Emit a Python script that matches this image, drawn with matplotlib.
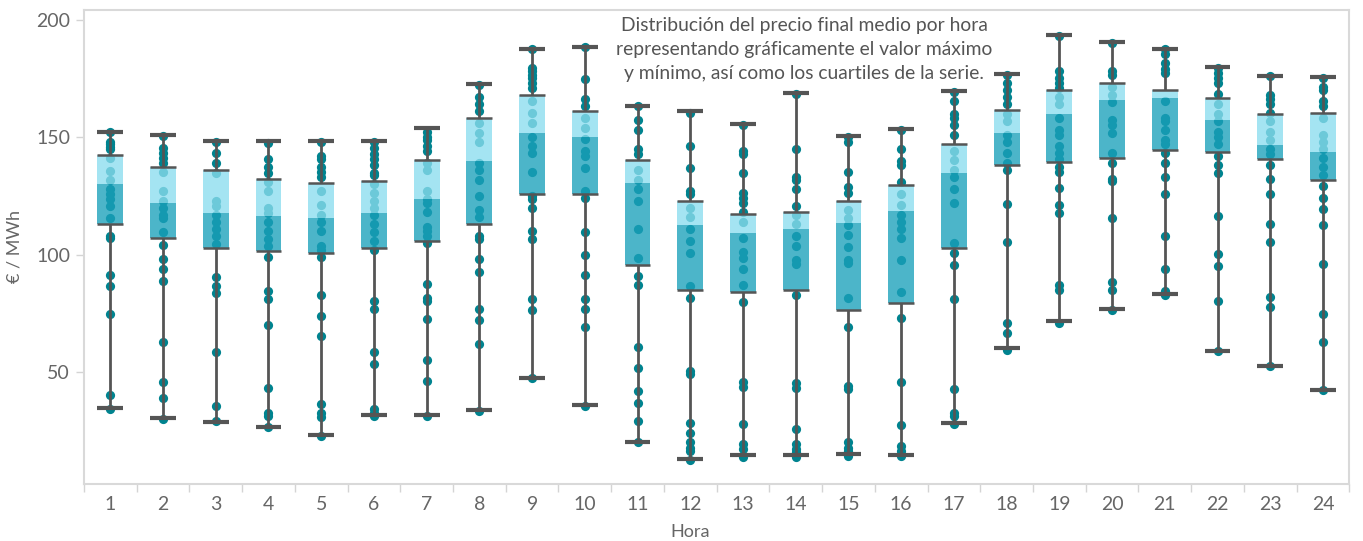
import numpy as np
import matplotlib
matplotlib.use("Agg")
import matplotlib.pyplot as plt

plt.rcParams['font.family'] = ['Lato', 'DejaVu Sans']

hours = list(range(1, 25))
vmin = [34.7, 30.4, 28.7, 26.6, 23.2, 31.8, 31.8, 33.8, 47.4, 35.9, 20.1, 12.9,
        14.5, 14.5, 14.9, 14.5, 28.4, 60.0, 71.5, 76.7, 83.0, 59.1, 52.7, 42.4]
q1 = [113.1, 107.1, 102.8, 101.5, 100.6, 102.8, 105.8, 113.0, 126.0, 126.0, 95.4, 84.8,
      83.9, 84.8, 76.2, 79.2, 102.7, 138.1, 139.6, 141.2, 144.6, 143.6, 140.5, 131.9]
med = [130.0, 122.0, 117.7, 116.4, 115.5, 117.7, 123.6, 139.9, 151.6, 150.1, 130.6, 112.6,
       109.2, 111.1, 113.4, 118.5, 134.9, 151.6, 159.7, 166.0, 166.8, 157.5, 146.7, 143.7]
q3 = [142.5, 137.4, 136.0, 132.2, 130.3, 131.2, 140.3, 158.3, 167.9, 161.3, 140.3, 122.9,
      117.3, 118.2, 122.9, 129.7, 147.0, 161.4, 169.9, 173.0, 169.9, 166.9, 159.7, 160.4]
vmax = [152.4, 150.8, 148.2, 148.2, 148.2, 148.2, 153.8, 172.5, 187.6, 188.5, 163.2, 161.0,
        155.8, 168.7, 150.4, 153.6, 169.6, 176.8, 193.5, 190.5, 187.6, 179.9, 176.1, 175.6]

points = [
    [152.2, 148, 147, 146, 144.9, 141.2, 135.7, 131.6, 128, 126, 123.5, 120.5, 115.7, 108, 107, 91.4, 86.7, 74.7, 40, 34.4],
    [150.5, 145.6, 143.4, 141.2, 139, 135.3, 127.2, 122.7, 119.8, 116.8, 115.4, 109.5, 104, 97.9, 94, 88.8, 62.9, 45.6, 39.1, 30],
    [147.9, 143.4, 139, 134.6, 122.7, 120.5, 116.8, 113.9, 110.9, 108, 104.3, 90.3, 86.6, 83.6, 58.5, 35.6, 28.9],
    [147.6, 140.5, 137.5, 134.6, 130.9, 127.2, 119.8, 117.6, 113.9, 110.2, 106.5, 103.5, 98.8, 84.3, 81.1, 69.9, 43, 32.6, 31.4, 26.4],
    [147.9, 141.9, 140.5, 137.5, 135.3, 133.1, 127.2, 121.3, 116.8, 113.9, 110.2, 103.5, 102.1, 99.1, 82.6, 73.7, 65.4, 36.3, 32.3, 30.8, 22.9],
    [147.9, 145.6, 142.7, 140.5, 138.3, 134.6, 133.8, 130, 126.4, 122.7, 119.8, 116.8, 113.1, 109.5, 105.8, 102.1, 80.2, 76.6, 58.3, 53.3, 34.4, 32.6, 31.2],
    [152.3, 150.1, 148.6, 146.4, 144.2, 139, 136, 127.2, 123.5, 122, 118.3, 111.7, 110.2, 108, 105, 87.6, 81.4, 80.2, 72.5, 55.1, 46.2, 31.2],
    [172.2, 167.1, 164.1, 161.2, 156, 151.6, 147.9, 139, 136, 131.6, 125, 119.1, 116.1, 108, 106.5, 97.9, 92.5, 77, 72.2, 61.8, 33.4],
    [187.7, 179.6, 178.1, 176.7, 175.2, 173, 170.8, 165.6, 160.4, 156, 150.1, 146.4, 143.4, 135.3, 125, 123.5, 119.8, 110.2, 106.5, 81.1, 76.2, 47.4],
    [188.5, 174.7, 166.3, 163.4, 158.2, 153.8, 149.3, 144.2, 141.9, 136.8, 127.2, 124.2, 109.5, 99.9, 91.4, 81.1, 77, 69.1, 35.6],
    [163.2, 157.5, 153, 144.9, 142.7, 136, 131.6, 127.9, 122.7, 110.9, 98.4, 91, 87, 60.7, 51.6, 41.8, 36.8, 28.9, 20.1],
    [160.4, 146.4, 136.8, 127.2, 125.7, 119.8, 116.1, 110.9, 105.8, 100.6, 86.6, 81.7, 50.4, 49.2, 28.2, 23.8, 20.1, 17.8, 16.4, 12.3],
    [155.2, 144.2, 142.7, 134.6, 126.4, 124.2, 122, 118.3, 113.9, 107.2, 101.3, 98.4, 94, 87, 79.6, 45.9, 43.7, 28, 19.3, 17.1, 13.7],
    [168.5, 144.9, 133.1, 131.6, 127.9, 120.5, 116.8, 113.1, 108, 103.5, 97.6, 96.1, 82.9, 45.2, 43.3, 25.6, 19.3, 17.1, 15.7, 13.7],
    [150.1, 147.9, 135, 128.7, 126.4, 119.1, 115.4, 112.4, 108.3, 103.2, 97.6, 96.5, 81.4, 69.1, 44.2, 42.7, 20.1, 17.8, 16.4, 14.2],
    [153, 144.9, 139.7, 138.3, 130.9, 125.7, 121.3, 116.8, 113.9, 110.9, 107.2, 97.6, 83.9, 72.8, 45.5, 27.5, 18.6, 16.4, 14.2],
    [169.3, 165.6, 159.7, 158.2, 155.2, 150.8, 144.2, 140.2, 136, 133.1, 127.9, 122, 105, 100.6, 95.4, 81.1, 42.7, 32.6, 31.2, 28],
    [176.7, 173, 170, 167.1, 164.1, 159.7, 156.7, 150.8, 147.9, 143.4, 139, 136, 121.6, 105.3, 70.8, 66.6, 59.2],
    [193.2, 178.1, 175.2, 173, 170.8, 167.1, 164.1, 158.2, 153, 150.8, 146.4, 143.4, 140.5, 137.5, 135.3, 128.4, 121, 117.6, 87, 85.1, 70.8],
    [190, 178.1, 176.7, 171.5, 167.8, 164.8, 157.5, 155.2, 152, 143.4, 139, 132.3, 131.3, 115.4, 88.5, 85.1, 76.2],
    [187.7, 185.5, 181.8, 178.9, 177.4, 165.6, 158.2, 156.7, 153, 148.6, 147.1, 143.4, 139, 133.1, 126, 107.7, 93.8, 84.6, 82.6],
    [179.6, 177.4, 175.2, 173, 168.5, 164.1, 159.7, 156.7, 152.3, 150.1, 147.1, 141.9, 138.3, 134.9, 116.6, 100.1, 95, 80.4, 58.8],
    [175.9, 167.8, 166.3, 164.1, 160.4, 156.7, 152.3, 148.6, 144.9, 142.7, 138.3, 132.3, 125.7, 112.9, 105.3, 82.1, 77.7, 52.6],
    [175.2, 171.5, 170, 165.6, 163.4, 158.2, 150.8, 147.9, 144.9, 141.2, 137.5, 133.8, 129.4, 124.2, 119.5, 112.7, 95.9, 74.6, 62.9, 42.2],
]

titulo = ("Distribución del precio final medio por hora\n"
          "representando gráficamente el valor máximo\n"
          "y mínimo, así como los cuartiles de la serie.")

fig = plt.figure(figsize=(13.63, 5.41), dpi=100)
ax = fig.add_axes([0.0616, 0.106, 0.9284, 0.876])

point_col = "#00838f"
line_col = "#555555"
w = 0.49

for h, pts in zip(hours, points):
    ax.scatter([h] * len(pts), pts, s=44, color=point_col, linewidths=0, zorder=2)

x = np.array(hours)
q1a, meda, q3a = np.array(q1), np.array(med), np.array(q3)
ax.bar(x, meda - q1a, bottom=q1a, width=w, color="#1aa0ba", alpha=0.78, zorder=3, linewidth=0)
ax.bar(x, q3a - meda, bottom=meda, width=w, color="#8bddef", alpha=0.78, zorder=3, linewidth=0)

ax.vlines(x, vmin, q1, color=line_col, lw=2, zorder=4)
ax.vlines(x, q3, vmax, color=line_col, lw=2, zorder=4)
ax.hlines(q1, x - w / 2, x + w / 2, color=line_col, lw=1.8, zorder=4)
ax.hlines(q3, x - w / 2, x + w / 2, color=line_col, lw=1.8, zorder=4)
ax.hlines(vmin, x - w / 2, x + w / 2, color=line_col, lw=3, zorder=4)
ax.hlines(vmax, x - w / 2, x + w / 2, color=line_col, lw=3, zorder=4)

ax.set_xlim(0.5, 24.5)
ax.set_ylim(2.4, 204.3)
ax.set_yticks([50, 100, 150, 200])
ax.set_xticks(hours)
ax.set_xticks(np.arange(0.5, 25, 1), minor=True)
ax.tick_params(axis='x', which='major', length=0, pad=9, labelsize=14, labelcolor="#666666")
ax.tick_params(axis='x', which='minor', length=6, color="#d4d4d4", width=1)
ax.tick_params(axis='y', length=6, color="#d4d4d4", width=1, pad=4, labelsize=14, labelcolor="#666666")

for s in ax.spines.values():
    s.set_color("#d9d9d9")
    s.set_linewidth(1.5)

ax.set_ylabel("€ / MWh", fontsize=13, color="#666666", labelpad=10)
ax.set_xlabel("Hora", fontsize=13, color="#666666")
ax.xaxis.set_label_coords(0.479, -0.085)

ax.text(0.569, 0.984, titulo, transform=ax.transAxes, ha='center', va='top',
        fontsize=13.9, color="#555555", linespacing=1.48, zorder=5)

fig.savefig("out.png", dpi=100)
